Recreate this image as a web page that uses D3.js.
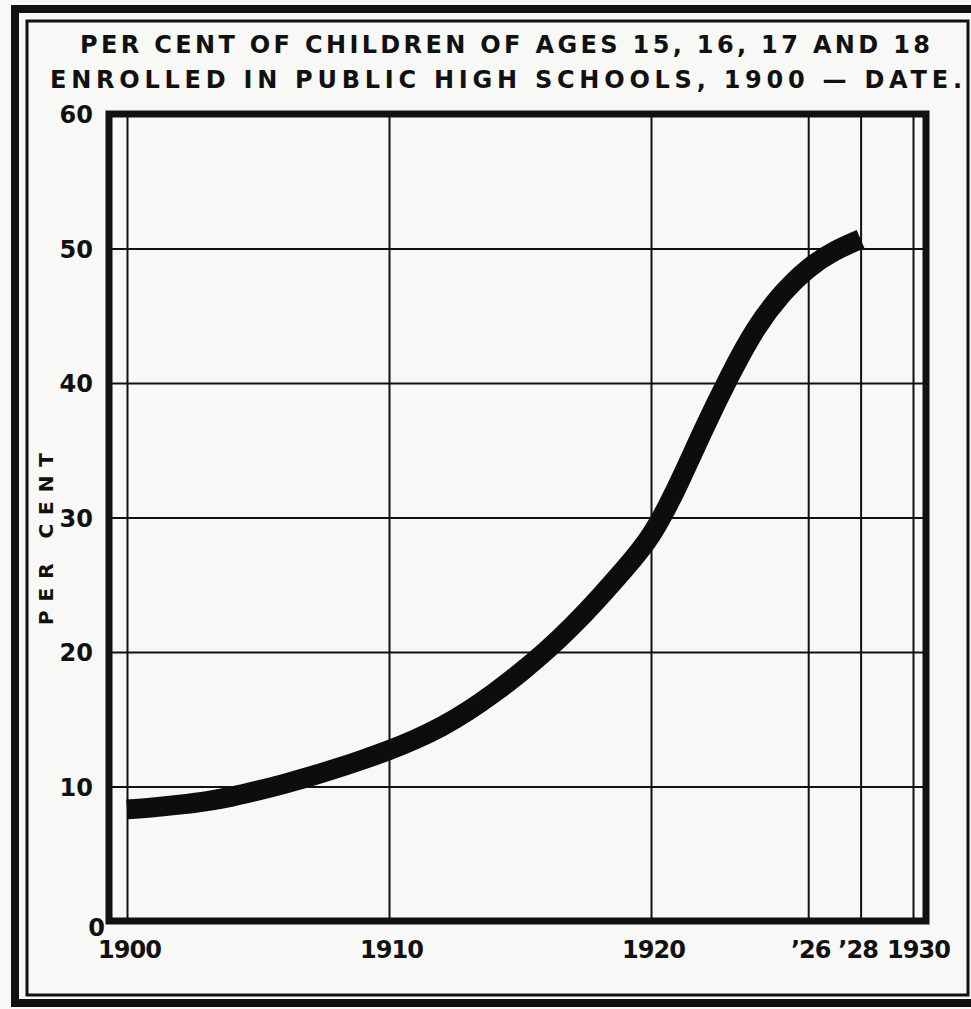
<!DOCTYPE html>
<html>
<head>
<meta charset="UTF-8">
<title>Per Cent of Children Enrolled in Public High Schools</title>
<script src="https://d3js.org/d3.v7.min.js"></script>
<style>
  body {margin:0; background:#f8f8f6;}
  svg {display:block;}
  text {fill:#111; font-family:"DejaVu Sans", sans-serif; font-weight:bold;}
  .axis .domain {display:none;}
  .axis line {stroke:#111; stroke-width:2;}
  .axis text {fill:#111; font-family:"DejaVu Sans", sans-serif;}
  .x.axis text {font-size:24px; letter-spacing:-1px;}
  .y.axis text {font-size:24px;}
</style>
</head>
<body>
<div id="chart"></div>
<script>
// values (per cent, ages 15-18)
var years = [1900,1901,1902,1903,1904,1905,1906,1907,1908,1909,
             1910,1911,1912,1913,1914,1915,1916,1917,1918,1919,
             1920,1921,1922,1923,1924,1925,1926,1927,1928];
var percents = [8.3,8.45,8.65,8.9,9.25,9.7,10.2,10.75,11.35,12.0,
                12.7,13.5,14.45,15.6,16.95,18.45,20.1,21.95,24.0,26.2,
                28.7,32.3,36.5,40.5,44.0,46.6,48.5,49.8,50.7];

var yTicks = [0,10,20,30,40,50,60];
var xTicks = [1900,1910,1920,1926,1928,1930];
var xTickLabels = ["1900","1910","1920","\u201926","\u201928","1930"];
var titleLines = ["PER CENT OF CHILDREN OF AGES 15, 16, 17 AND 18",
                  "ENROLLED IN PUBLIC  HIGH  SCHOOLS, 1900 \u2014 DATE."];
var yLabel = "PER CENT";

var width = 971, height = 1009;

var x = d3.scaleLinear().domain([1900,1930]).range([127,913]);
var y = d3.scaleLinear().domain([0,60]).range([921,114]);

var frame = {left: x(1900) - 18, right: x(1930) + 13, top: y(60), bottom: y(0)};

var svg = d3.select("#chart").append("svg")
    .attr("width", width)
    .attr("height", height);

// double border round the whole plate
svg.append("rect")
    .attr("x", 15).attr("y", 9)
    .attr("width", 975).attr("height", 994)
    .attr("fill", "none").attr("stroke", "#111").attr("stroke-width", 8);
svg.append("rect")
    .attr("x", 27).attr("y", 21)
    .attr("width", 941).attr("height", 974)
    .attr("fill", "none").attr("stroke", "#111").attr("stroke-width", 3);

// title
svg.selectAll(".title")
    .data(titleLines)
    .enter().append("text")
    .attr("class", "title")
    .attr("x", function(d, i) { return i == 0 ? 80 : 50; })
    .attr("y", function(d, i) { return i == 0 ? 53 : 88; })
    .attr("textLength", function(d, i) { return i == 0 ? 850 : 912; })
    .attr("lengthAdjust", "spacing")
    .style("font-size", "24px")
    .text(function(d) { return d; });

// vertical grid + year labels
var xAxis = d3.axisBottom(x)
    .tickValues(xTicks)
    .tickFormat(function(d, i) { return xTickLabels[i]; })
    .tickSize(-(frame.bottom - frame.top))
    .tickPadding(20);

svg.append("g")
    .attr("class", "x axis")
    .attr("transform", "translate(0," + frame.bottom + ")")
    .call(xAxis)
    .selectAll("text")
    .attr("dx", function(d) { return d == 1928 ? -3 : d == 1930 ? 5 : 2; });

// horizontal grid + per cent labels
var yAxis = d3.axisLeft(y)
    .tickValues(yTicks)
    .tickSize(-(frame.right - frame.left))
    .tickPadding(16);

svg.append("g")
    .attr("class", "y axis")
    .attr("transform", "translate(" + frame.left + ",0)")
    .call(yAxis)
    .selectAll("text")
    .attr("dx", function(d) { return d == 0 ? 12 : 0; })
    .attr("dy", function(d) { return d == 0 ? "0.6em" : "0.36em"; });

// heavy plot frame
svg.append("rect")
    .attr("x", frame.left).attr("y", frame.top)
    .attr("width", frame.right - frame.left)
    .attr("height", frame.bottom - frame.top)
    .attr("fill", "none").attr("stroke", "#111").attr("stroke-width", 7);

// axis title
svg.append("text")
    .attr("transform", "translate(53,625) rotate(-90)")
    .attr("textLength", 172)
    .attr("lengthAdjust", "spacing")
    .style("font-size", "20px")
    .text(yLabel);

// the enrolment curve
var line = d3.line()
    .x(function(d, i) { return x(years[i]); })
    .y(function(d) { return y(d); })
    .curve(d3.curveNatural);

svg.append("path")
    .datum(percents)
    .attr("d", line)
    .attr("fill", "none")
    .attr("stroke", "#0d0d0d")
    .attr("stroke-width", 20)
    .attr("stroke-linecap", "butt");
</script>
</body>
</html>
